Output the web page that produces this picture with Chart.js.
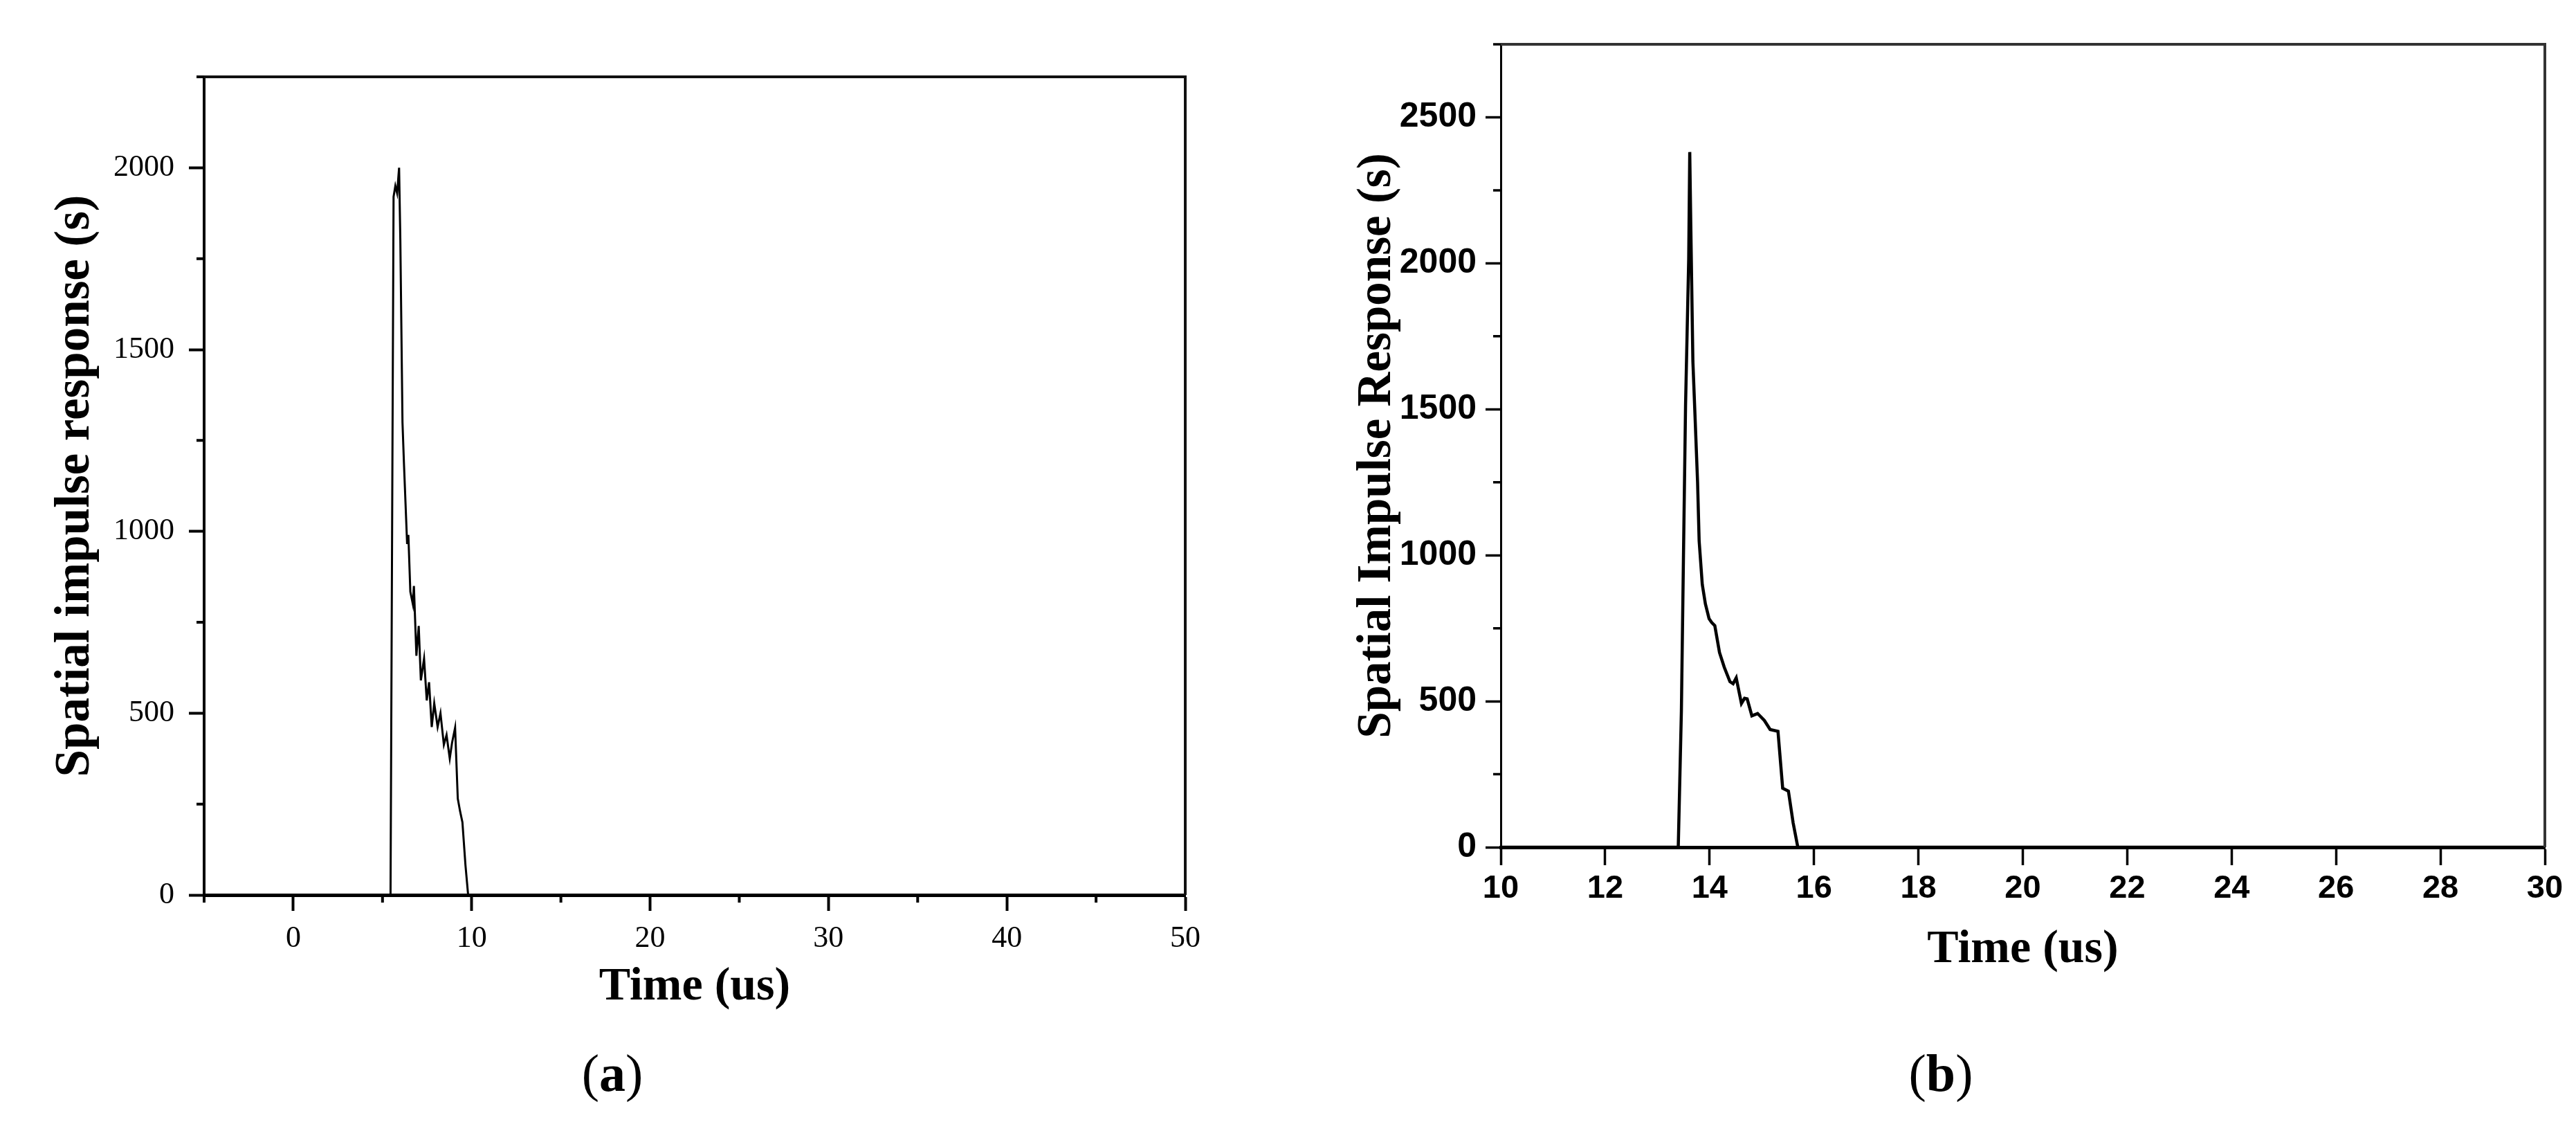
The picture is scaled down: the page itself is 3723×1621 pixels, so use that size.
<!DOCTYPE html>
<html>
<head>
<meta charset="utf-8">
<script src="https://cdn.jsdelivr.net/npm/chart.js@4.4.1/dist/chart.umd.min.js"></script>
<style>
  html, body { margin: 0; padding: 0; background: #fff; }
  body { width: 3723px; height: 1621px; position: relative; overflow: hidden; }
  #chart-a { position: absolute; left: 0; top: 0; }
  #chart-b { position: absolute; left: 1880px; top: 0; }
  .caption {
    position: absolute; top: 1510px; line-height: 80px;
    font-family: 'Liberation Serif', serif; font-size: 76px; color: #000;
    transform: translateX(-50%);
  }
</style>
</head>
<body>
<canvas id="chart-a" width="1800" height="1480"></canvas>
<canvas id="chart-b" width="1843" height="1480"></canvas>
<div class="caption" style="left:885px">(<b>a</b>)</div>
<div class="caption" style="left:2805px">(<b>b</b>)</div>
<script>
// (a) spatial impulse response, time in us
const timeA = [-5, 5.45, 5.62, 5.72, 5.82, 5.93, 6.0, 6.12, 6.2, 6.38, 6.45, 6.56, 6.7, 6.76, 6.9, 7.03, 7.15, 7.33, 7.48, 7.61, 7.76, 7.9, 8.09, 8.25, 8.44, 8.59, 8.77, 8.9, 9.07, 9.22, 9.35, 9.48, 9.65, 9.8, 50];
const responseA = [0, 0, 1920, 1950, 1930, 2000, 1800, 1300, 1190, 965, 990, 834, 800, 850, 658, 740, 590, 650, 535, 585, 462, 527, 462, 500, 413, 440, 375, 419, 460, 265, 230, 200, 82, 0, 0];
const xTicksA = [0, 10, 20, 30, 40, 50];
const xMinorA = [-5, 5, 15, 25, 35, 45];
const yTicksA = [0, 500, 1000, 1500, 2000];
const yMinorA = [250, 750, 1250, 1750, 2250];

// (b)
const timeB = [10, 13.4, 13.46, 13.5, 13.54, 13.57, 13.6, 13.62, 13.64, 13.68, 13.72, 13.77, 13.8, 13.86, 13.92, 13.99, 14.04, 14.1, 14.19, 14.28, 14.39, 14.45, 14.51, 14.61, 14.67, 14.72, 14.81, 14.92, 15.05, 15.16, 15.31, 15.4, 15.51, 15.6, 15.69, 30];
const responseB = [0, 0, 467, 1000, 1516, 1765, 2015, 2381, 2132, 1665, 1482, 1250, 1049, 900, 833, 783, 770, 759, 667, 617, 567, 560, 580, 492, 510, 508, 450, 458, 434, 403, 397, 202, 192, 84, 0, 0];
const xTicksB = [10, 12, 14, 16, 18, 20, 22, 24, 26, 28, 30];
const yTicksB = [0, 500, 1000, 1500, 2000, 2500];
const yMinorB = [250, 750, 1250, 1750, 2250, 2750];

// short ticks between the labelled ones, plus the top and right frame lines
const minorTicks = {
    id: 'minorTicks',
    afterDraw(chart, args, opts) {
        const { ctx, chartArea, scales } = chart;
        ctx.save();
        ctx.strokeStyle = '#000';
        ctx.lineWidth = opts.width;
        ctx.beginPath();
        (opts.x || []).forEach(v => {
            const px = scales.x.getPixelForValue(v);
            ctx.moveTo(px, chartArea.bottom);
            ctx.lineTo(px, chartArea.bottom + opts.xLength);
        });
        (opts.y || []).forEach(v => {
            const py = scales.y.getPixelForValue(v);
            ctx.moveTo(chartArea.left - opts.yLength, py);
            ctx.lineTo(chartArea.left, py);
        });
        ctx.stroke();
        ctx.strokeStyle = opts.frameColor;
        ctx.lineWidth = opts.frameWidth;
        ctx.beginPath();
        ctx.moveTo(chartArea.left, chartArea.top);
        ctx.lineTo(chartArea.right, chartArea.top);
        ctx.lineTo(chartArea.right, chartArea.bottom);
        ctx.stroke();
        ctx.restore();
    }
};

function toPoints(xs, ys) {
    return xs.map((x, i) => ({ x: x, y: ys[i] }));
}

function titleFont(size) {
    return { family: "'Liberation Serif', serif", size: size, weight: 'bold', lineHeight: 1.2 };
}

function buildChart(id, p) {
    const ctx = document.getElementById(id).getContext('2d');
    return new Chart(ctx, {
        type: 'line',
        data: {
            datasets: [{
                data: toPoints(p.xs, p.ys),
                borderColor: '#000',
                borderWidth: p.lineWidth,
                pointRadius: 0,
                tension: 0,
                fill: false
            }]
        },
        options: {
            responsive: false,
            animation: false,
            devicePixelRatio: 1,
            layout: { padding: { top: p.padTop, right: p.padRight, left: 0, bottom: 0 } },
            plugins: {
                legend: { display: false },
                tooltip: { enabled: false },
                minorTicks: {
                    x: p.xMinor, y: p.yMinor,
                    xLength: p.minorLength, yLength: p.minorLength,
                    width: p.tickWidth, frameWidth: 4, frameColor: p.frameColor
                }
            },
            scales: {
                x: {
                    type: 'linear',
                    min: p.xMin, max: p.xMax,
                    afterBuildTicks: s => { s.ticks = p.xTicks.map(v => ({ value: v })); },
                    afterFit: s => { s.height = p.xHeight; },
                    border: { display: true, color: '#000', width: 5 },
                    grid: { drawOnChartArea: false, drawTicks: true, tickLength: p.xTickLength, tickWidth: p.tickWidth, tickColor: '#000' },
                    ticks: { color: '#000', font: p.tickFont, padding: p.xTickPad, maxRotation: 0, autoSkip: false, callback: v => String(v) },
                    title: { display: true, text: 'Time (us)', color: '#000', font: titleFont(68), padding: { top: 0, bottom: p.xTitlePad } }
                },
                y: {
                    type: 'linear',
                    min: 0, max: p.yMax,
                    afterBuildTicks: s => { s.ticks = p.yTicks.map(v => ({ value: v })); },
                    afterFit: s => { s.width = p.yWidth; },
                    border: { display: true, color: '#000', width: p.yBorder },
                    grid: { drawOnChartArea: false, drawTicks: true, tickLength: 22, tickWidth: p.tickWidth, tickColor: '#000' },
                    ticks: { color: '#000', font: p.yTickFont || p.tickFont, padding: p.yTickPad, autoSkip: false, callback: v => String(v) },
                    title: { display: true, text: p.yTitle, color: '#000', font: titleFont(p.yTitleSize), padding: { top: p.yTitlePad, bottom: 0 } }
                }
            }
        },
        plugins: [minorTicks]
    });
}

document.addEventListener('DOMContentLoaded', function() {
    buildChart('chart-a', {
        xs: timeA, ys: responseA, lineWidth: 3,
        xMin: -5, xMax: 50, yMax: 2250,
        xTicks: xTicksA, yTicks: yTicksA, xMinor: xMinorA, yMinor: yMinorA,
        padTop: 111, padRight: 87, xHeight: 187, yWidth: 295,
        xTickLength: 23, minorLength: 11, tickWidth: 4, yBorder: 4,
        tickFont: { family: "'Liberation Serif', serif", size: 44 },
        xTickPad: 14, yTickPad: 21,
        xTitlePad: 13, yTitlePad: 67, yTitleSize: 71,
        yTitle: 'Spatial impulse response (s)', frameColor: '#111'
    });
    buildChart('chart-b', {
        xs: timeB, ys: responseB, lineWidth: 4.5,
        xMin: 10, xMax: 30, yMax: 2750,
        xTicks: xTicksB, yTicks: yTicksB, xMinor: [], yMinor: yMinorB,
        padTop: 64, padRight: 45, xHeight: 256, yWidth: 289,
        xTickLength: 26, minorLength: 11, tickWidth: 3.5, yBorder: 3,
        tickFont: { family: "'Liberation Sans', sans-serif", size: 47, weight: 'bold' },
        yTickFont: { family: "'Liberation Sans', sans-serif", size: 50, weight: 'bold' },
        xTickPad: 6, yTickPad: 13,
        xTitlePad: 67, yTitlePad: 70, yTitleSize: 69,
        yTitle: 'Spatial Impulse Response (s)', frameColor: '#333'
    });
});
</script>
</body>
</html>
